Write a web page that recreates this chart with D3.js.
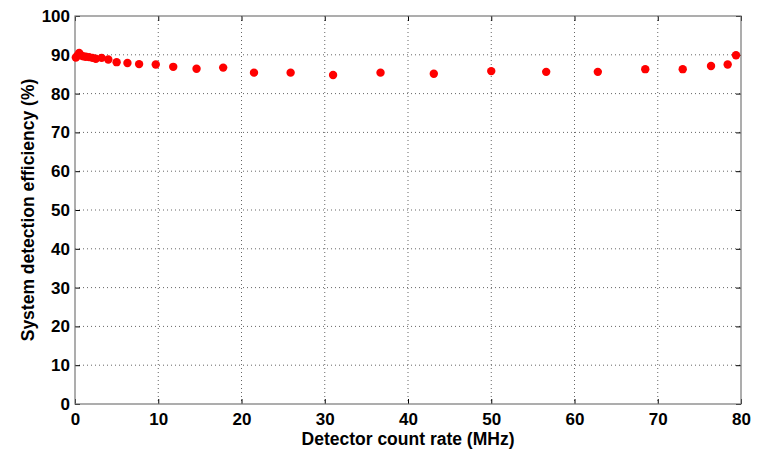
<!DOCTYPE html>
<html>
<head>
<meta charset="utf-8">
<script src="https://cdn.jsdelivr.net/npm/d3@7"></script>
<style>
  body { margin: 0; background: #fff; }
  text { font-family: "Liberation Sans", Arial, sans-serif; font-weight: bold; }
</style>
</head>
<body>
<svg id="chart"></svg>
<script>
// count rate (MHz) and efficiency (%)
const countRate = [0.1, 0.3, 0.5, 0.7, 1.0, 1.3, 1.7, 2.1, 2.5, 3.2, 4.0, 5.0, 6.3, 7.7, 9.7,
  11.8, 14.6, 17.8, 21.5, 25.9, 31.0, 36.7, 43.1, 50.0, 56.6, 62.8, 68.5, 73.0, 76.4, 78.4, 79.4];
const efficiency = [89.3, 89.8, 90.5, 89.9, 89.6, 89.5, 89.4, 89.2, 89.0, 89.2, 88.8, 88.1, 87.9, 87.6, 87.5,
  86.9, 86.4, 86.7, 85.4, 85.4, 84.8, 85.4, 85.1, 85.8, 85.6, 85.6, 86.3, 86.3, 87.1, 87.5, 89.9];
const xTicks = [0, 10, 20, 30, 40, 50, 60, 70, 80];
const yTicks = [0, 10, 20, 30, 40, 50, 60, 70, 80, 90, 100];

const W = 761, H = 449;
const margin = { top: 16, right: 20, bottom: 45, left: 75 };
const width = W - margin.left - margin.right;
const height = H - margin.top - margin.bottom;

const svg = d3.select('#chart').attr('width', W).attr('height', H);
const g = svg.append('g').attr('transform', `translate(${margin.left}, ${margin.top})`);

const x = d3.scaleLinear().domain([0, 80]).range([0, width]);
const y = d3.scaleLinear().domain([0, 100]).range([height, 0]);

// dotted grid
g.append('g').selectAll('line').data(xTicks.slice(1, -1)).join('line')
  .attr('x1', d => x(d)).attr('x2', d => x(d)).attr('y1', 0).attr('y2', height)
  .attr('stroke', '#666').attr('stroke-dasharray', '1,3');
g.append('g').selectAll('line').data(yTicks.slice(1, -1)).join('line')
  .attr('y1', d => y(d)).attr('y2', d => y(d)).attr('x1', 0).attr('x2', width)
  .attr('stroke', '#666').attr('stroke-dasharray', '1,3');

// axes with inward ticks
const styleAxis = sel => {
  sel.select('.domain').remove();
  sel.selectAll('.tick line').attr('stroke', '#000');
  sel.selectAll('.tick text').attr('font-size', 17).attr('fill', '#000');
};
g.append('g').attr('transform', `translate(0, ${height})`)
  .call(d3.axisBottom(x).tickValues(xTicks).tickSizeInner(-5).tickSizeOuter(0).tickPadding(9))
  .call(styleAxis);
g.append('g')
  .call(d3.axisLeft(y).tickValues(yTicks).tickSizeInner(-5).tickSizeOuter(0).tickPadding(5))
  .call(styleAxis);
g.append('g')
  .call(d3.axisTop(x).tickValues(xTicks).tickSizeInner(-5).tickSizeOuter(0).tickFormat(''))
  .call(styleAxis);
g.append('g').attr('transform', `translate(${width}, 0)`)
  .call(d3.axisRight(y).tickValues(yTicks).tickSizeInner(-5).tickSizeOuter(0).tickFormat(''))
  .call(styleAxis);

// box
g.append('rect').attr('width', width).attr('height', height)
  .attr('fill', 'none').attr('stroke', '#777').attr('stroke-width', 1.2);

// points
g.selectAll('.pt').data(countRate).join('circle')
  .attr('class', 'pt')
  .attr('cx', d => x(d))
  .attr('cy', (d, i) => y(efficiency[i]))
  .attr('r', 4.2)
  .attr('fill', '#ff0000');

// axis titles
svg.append('text').attr('x', margin.left + width / 2).attr('y', 445)
  .attr('text-anchor', 'middle').attr('font-size', 17.5).text('Detector count rate (MHz)');
svg.append('text').attr('transform', `translate(34, ${margin.top + height / 2}) rotate(-90)`)
  .attr('text-anchor', 'middle').attr('font-size', 17.5).text('System detection efficiency (%)');
</script>
</body>
</html>
